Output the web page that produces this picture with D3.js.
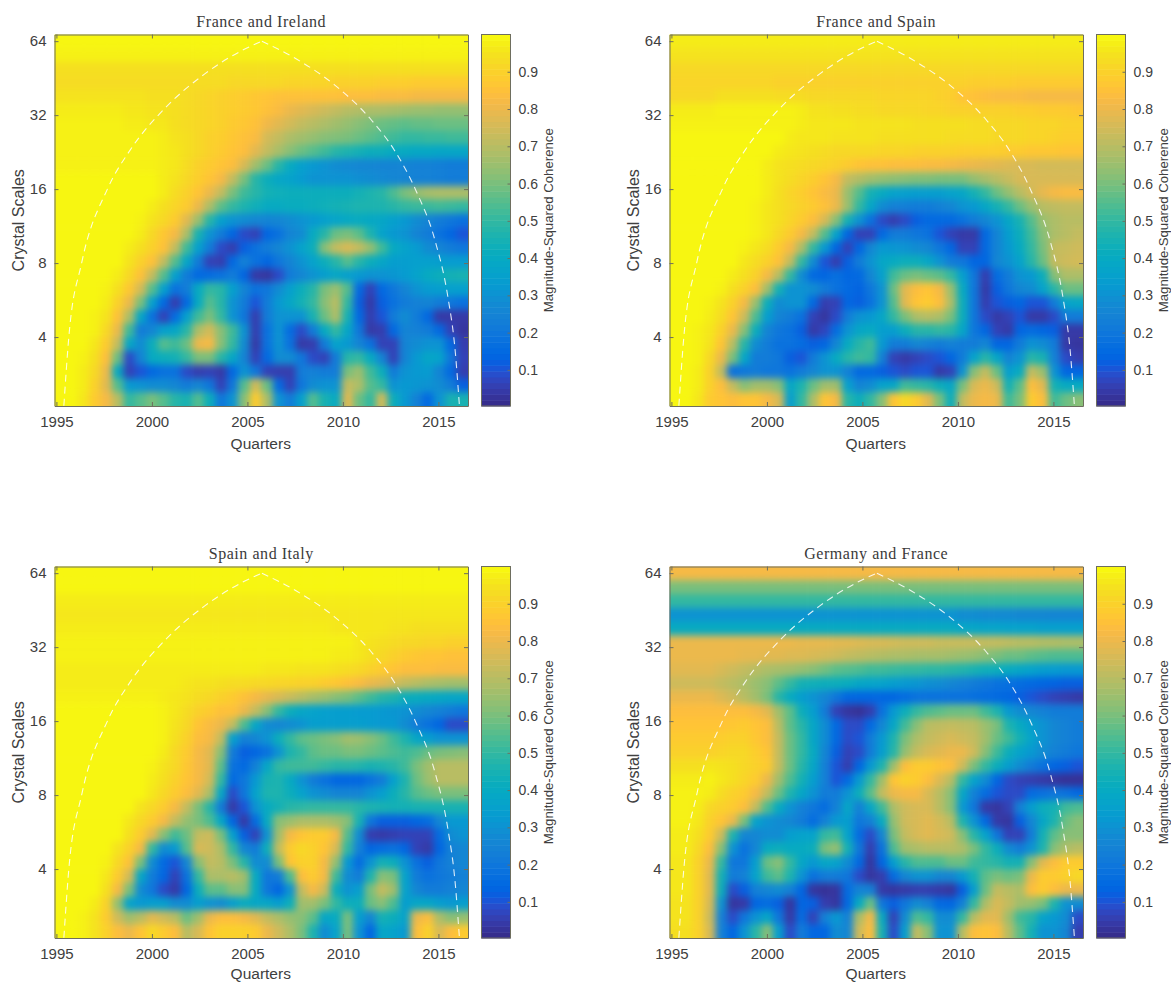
<!DOCTYPE html>
<html><head><meta charset="utf-8">
<style>html,body{margin:0;padding:0;background:#fff}svg{display:block}</style>
<script src="https://cdn.jsdelivr.net/npm/d3@7"></script>
</head><body><svg id="c" width="1171" height="982"></svg>
<script>
const xTicks=[1995,2000,2005,2010,2015];
const yTicks=[4,8,16,32,64];
const barTicks=[0.1,0.2,0.3,0.4,0.5,0.6,0.7,0.8,0.9];
const titles=["France and Ireland","France and Spain","Spain and Italy","Germany and France"];
const parula=[[.2081,.1663,.5292],[.2116,.1898,.5777],[.2123,.2138,.627],[.2081,.2386,.6771],[.1959,.2645,.7279],[.1707,.2919,.7792],[.1253,.3242,.8303],[.0591,.3598,.8683],[.0117,.3875,.882],[.006,.4086,.8828],[.0165,.4266,.8786],[.0329,.443,.872],[.0498,.4586,.8641],[.0629,.4737,.8554],[.0723,.4887,.8467],[.0779,.504,.8384],[.0793,.52,.8312],[.0749,.5375,.8263],[.0641,.557,.824],[.0488,.5772,.8228],[.0343,.5966,.8199],[.0265,.6137,.8135],[.0239,.6287,.8038],[.0231,.6418,.7913],[.0228,.6535,.7768],[.0267,.6642,.7607],[.0384,.6743,.7436],[.059,.6838,.7254],[.0843,.6928,.7062],[.1133,.7015,.6859],[.1453,.7098,.6646],[.1801,.7177,.6424],[.2178,.725,.6193],[.2586,.7317,.5954],[.3022,.7376,.5712],[.3482,.7424,.5473],[.3953,.7459,.5244],[.442,.7481,.5033],[.4871,.7491,.484],[.53,.7491,.4661],[.5709,.7485,.4494],[.6099,.7473,.4337],[.6473,.7456,.4188],[.6834,.7435,.4044],[.7184,.7411,.3905],[.7525,.7384,.3768],[.7858,.7356,.3633],[.8185,.7327,.3498],[.8507,.7299,.336],[.8824,.7274,.3217],[.9139,.7258,.3063],[.945,.7261,.2886],[.9739,.7314,.2666],[.9938,.7455,.2403],[.999,.7653,.2164],[.9955,.7861,.1967],[.988,.8066,.1794],[.9789,.8271,.1633],[.9697,.8481,.1475],[.9626,.8705,.1309],[.9589,.8949,.1132],[.9598,.9218,.0948],[.9661,.9514,.0755],[.9763,.9831,.0538]];
const coiLeft=[[1995.39,2.1],[1995.65,4],[1996.32,8],[1997.67,16],[1998.85,23],[2000.79,34.8],[2002.75,47],[2004.69,58.5],[2005.76,64]];
const coiRight=[[2005.76,64],[2007.59,54],[2009.56,42.5],[2011.5,30.5],[2012.67,23.2],[2013.82,15.8],[2014.82,9.9],[2015.5,5.8],[2015.88,3.5],[2016.1,2.1]];

const franceIreland=[
[99,99,99,99,99,99,99,99,99,99,99,99,99,99,99,99,99,99,99,99,99,99,99,99,99,99,99,99,99,99,99,99,99,99,99,99],
[98,98,98,98,98,98,98,98,98,98,98,98,98,98,98,98,98,98,98,98,98,98,98,98,98,98,98,98,98,98,98,98,98,98,98,98],
[94,94,94,94,94,94,94,94,94,94,94,94,94,94,94,94,94,94,94,94,94,94,94,94,94,94,94,94,94,94,94,94,94,94,94,94],
[93,93,93,93,93,93,93,93,93,93,93,93,93,93,93,92,92,92,92,92,91,91,91,91,90,90,90,90,89,89,89,88,88,88,88,88],
[95,95,95,95,95,95,95,95,94,94,94,93,92,91,90,89,88,87,86,85,85,85,85,85,85,84,84,84,83,83,83,82,82,82,82,82],
[97,97,97,97,97,97,96,96,95,95,94,93,92,91,90,89,88,87,85,83,80,78,76,74,72,70,69,68,68,67,66,65,65,64,64,64],
[98,98,98,98,98,98,97,97,96,96,94,93,92,91,90,88,87,85,81,78,75,72,70,68,66,64,62,60,58,57,56,57,57,58,58,58],
[98,98,98,98,98,98,98,98,98,97,95,94,92,90,89,87,85,83,75,72,68,66,64,62,61,60,58,56,54,52,50,50,51,51,52,52],
[98,98,98,98,98,98,98,98,98,97,96,94,92,90,88,86,84,78,72,67,62,58,55,52,48,46,44,42,42,40,40,39,39,38,38,38],
[98,98,98,98,98,98,98,98,98,97,96,93,90,88,86,84,76,66,58,48,40,35,32,30,28,27,26,26,25,25,25,24,24,23,22,22],
[99,99,99,99,99,99,99,99,99,97,95,92,89,86,82,72,60,48,42,38,36,33,30,30,30,30,29,28,27,26,25,24,24,23,22,22],
[99,99,99,99,99,99,99,99,99,97,93,90,86,80,72,60,52,48,44,43,42,42,42,42,42,42,44,46,48,54,60,64,67,68,68,68],
[99,99,99,99,99,99,99,99,97,94,91,88,80,68,56,50,46,43,40,40,41,41,42,43,44,45,46,46,46,48,50,51,51,52,51,50],
[99,99,99,99,99,99,99,98,95,92,88,78,65,48,35,30,28,26,25,26,28,30,32,35,37,39,40,39,38,35,32,28,25,22,20,18],
[99,99,99,99,99,99,99,97,92,87,82,68,45,30,22,14,8,6,14,18,25,28,40,48,58,60,56,46,36,32,30,25,22,18,14,10],
[99,99,99,99,99,99,97,94,90,85,72,52,35,22,8,5,12,18,22,26,30,36,42,62,72,76,72,64,52,40,36,33,28,25,22,20],
[99,99,99,99,99,99,95,90,85,72,55,38,22,6,5,15,24,18,14,20,25,30,36,42,48,55,48,42,38,34,34,35,35,34,33,33],
[99,99,99,99,99,97,92,85,72,55,35,22,15,16,18,22,14,4,3,8,22,26,30,34,38,35,32,30,30,31,33,36,40,42,44,45],
[99,99,99,99,98,94,87,75,55,35,18,22,40,50,48,35,25,18,20,28,35,42,48,60,65,55,15,6,15,20,25,30,33,34,35,35],
[99,99,99,99,97,90,80,60,35,15,5,15,40,55,48,30,22,10,22,32,38,44,50,62,70,50,12,4,12,18,22,24,25,22,20,18],
[99,99,99,98,95,85,68,38,18,6,16,35,52,60,50,30,20,5,22,30,30,30,45,58,68,45,15,5,10,22,28,22,15,4,4,4],
[99,99,99,98,92,80,52,22,26,35,38,48,68,75,62,52,30,5,18,30,16,8,22,40,50,38,20,4,5,15,25,24,22,15,6,3],
[99,99,99,96,88,72,38,28,42,55,52,58,80,82,62,50,28,4,18,30,18,4,5,22,36,32,25,18,6,6,25,28,30,30,15,5],
[99,99,98,94,84,58,8,25,40,42,44,50,60,60,48,38,25,6,15,28,28,20,8,6,22,48,50,40,25,6,25,32,38,36,20,6],
[99,99,97,92,80,40,6,10,15,18,18,8,5,6,4,15,30,20,6,5,5,22,24,22,22,60,65,52,42,22,30,32,33,25,15,5],
[99,99,97,90,78,55,32,30,28,28,26,22,26,20,6,20,55,75,58,15,6,20,28,30,30,72,68,55,50,30,32,31,30,28,22,12],
[99,99,96,88,82,70,50,55,60,55,48,45,55,42,20,30,62,88,68,30,22,35,55,45,40,78,58,50,75,42,32,24,15,30,45,45]
];
const franceSpain=[
[97,97,97,97,97,97,97,97,97,97,97,97,97,97,97,97,97,97,97,97,97,97,97,97,97,97,97,97,97,97,97,97,97,97,97,97],
[95,95,95,95,95,95,95,95,95,95,95,95,95,95,95,95,95,95,95,95,95,95,95,95,95,95,95,95,95,95,95,95,95,95,95,95],
[92,92,92,92,92,92,92,92,92,92,92,92,92,92,92,92,92,92,92,92,92,92,92,92,92,92,92,92,92,92,92,92,92,92,92,92],
[91,91,91,91,91,91,91,91,91,90,90,90,90,90,90,90,90,90,90,90,90,90,90,90,90,90,89,89,89,89,88,88,88,88,88,88],
[92,92,92,92,94,94,94,94,94,93,93,93,92,92,92,92,92,92,91,91,91,91,91,90,89,86,85,84,83,83,83,82,82,82,82,82],
[97,97,97,97,98,98,98,98,98,98,98,97,95,95,94,94,93,93,92,92,92,92,91,91,90,90,90,90,90,90,89,89,88,88,88,87],
[98,98,98,98,98,98,98,98,98,98,98,97,96,96,96,96,95,95,95,95,95,94,94,94,94,94,93,93,92,92,92,91,91,91,90,90],
[99,99,99,99,99,99,99,99,99,99,97,96,96,96,95,95,95,95,94,94,94,94,94,94,93,93,93,93,92,92,92,91,91,90,89,89],
[99,99,99,99,99,99,99,99,99,97,96,95,94,93,92,92,92,92,91,91,91,90,90,90,90,89,89,89,89,88,88,87,87,87,86,86],
[99,99,99,99,99,99,99,99,97,95,94,93,92,91,90,88,86,85,85,84,84,84,83,83,82,81,80,79,78,77,76,76,75,75,75,75],
[99,99,99,99,99,99,99,99,97,95,93,91,89,86,82,72,69,66,64,63,62,61,61,60,60,60,64,67,70,73,76,76,76,76,76,76],
[99,99,99,99,99,99,99,99,97,94,91,89,86,83,80,65,55,44,40,36,35,34,34,34,36,38,44,50,58,64,70,75,79,82,83,83],
[99,99,99,99,99,99,99,98,96,94,92,90,88,85,80,65,50,38,28,24,23,22,22,24,26,30,32,38,44,50,58,65,70,71,72,72],
[99,99,99,99,99,99,99,98,96,94,91,88,84,76,62,44,30,18,8,5,8,12,15,15,15,18,22,26,30,38,45,55,65,68,70,70],
[99,99,99,99,99,99,99,98,96,92,88,82,72,55,36,14,6,6,15,22,22,20,18,10,6,4,4,15,25,34,42,52,62,68,70,72],
[99,99,99,99,99,99,98,96,93,88,82,68,50,32,14,6,14,26,32,31,30,28,26,20,14,6,6,15,25,32,40,50,60,72,73,74],
[99,99,99,99,99,99,96,93,90,85,72,50,28,10,5,12,22,30,38,40,42,42,38,30,22,20,14,14,26,30,36,48,58,72,74,75],
[99,99,99,99,99,97,94,90,82,70,50,28,15,14,17,14,15,26,35,52,58,60,58,56,50,35,20,5,16,22,30,32,42,62,68,68],
[99,99,99,99,98,94,90,84,66,44,30,30,28,22,18,15,13,20,30,58,78,84,86,82,65,40,20,4,12,20,26,28,36,48,58,58],
[99,99,99,98,95,90,82,65,42,28,30,30,15,5,6,14,12,18,30,55,78,86,88,84,68,42,20,5,10,12,14,10,10,22,36,38],
[99,99,99,97,93,86,74,54,34,25,22,18,6,3,8,22,30,32,38,50,60,68,70,68,60,42,20,8,4,6,10,4,4,8,22,22],
[99,99,98,96,90,80,62,42,25,20,18,12,4,7,16,30,38,40,34,34,42,48,48,50,48,38,20,14,6,4,14,16,14,12,4,4],
[99,99,98,95,86,70,48,28,22,18,18,16,12,14,26,40,48,52,32,22,22,26,24,22,24,22,22,26,14,14,22,30,28,22,4,3],
[99,99,98,92,80,60,38,22,22,20,12,10,22,30,40,48,52,50,24,6,4,6,8,10,14,22,36,48,38,25,30,48,45,24,8,5],
[99,99,97,90,72,18,20,22,20,20,18,22,26,30,30,24,15,15,12,10,8,10,10,4,6,30,62,72,58,34,40,72,65,30,14,14],
[99,99,97,90,84,72,62,66,66,62,38,46,58,66,66,35,25,28,36,38,52,50,48,42,38,60,76,80,74,44,56,84,78,44,40,40],
[99,99,96,88,86,84,86,86,82,76,34,50,68,86,82,48,42,50,62,86,92,88,78,60,42,72,80,82,80,52,60,88,84,52,58,62]
];
const spainItaly=[
[99,99,99,99,99,99,99,99,99,99,99,99,99,99,99,99,99,99,99,99,99,99,99,99,99,99,99,99,99,99,99,99,99,99,99,99],
[99,99,99,99,99,99,99,99,99,99,99,99,99,99,99,99,99,99,99,99,99,99,99,99,99,99,99,99,99,99,99,99,99,99,99,99],
[97,97,97,97,97,97,97,97,97,97,97,97,97,97,97,97,97,97,97,97,97,97,97,97,97,97,97,97,97,97,97,97,97,97,97,97],
[96,96,96,96,96,96,96,96,96,96,96,96,96,96,96,96,96,96,96,96,96,96,96,96,96,96,96,96,96,96,96,96,96,96,96,96],
[97,97,97,97,97,97,97,97,97,97,97,97,97,97,97,97,97,97,97,97,97,97,97,97,96,96,96,96,96,95,95,94,94,94,94,94],
[98,98,98,98,98,98,98,98,98,98,98,98,98,98,98,98,98,98,98,98,98,98,98,98,98,98,96,95,94,93,92,92,91,91,90,90],
[98,98,98,98,98,98,98,98,98,98,98,98,98,98,98,98,98,98,98,98,98,98,98,98,97,97,96,94,92,90,88,87,86,86,85,85],
[97,97,97,97,97,97,97,97,97,97,97,97,97,97,97,97,97,97,96,96,96,95,95,95,94,93,92,90,88,86,84,84,84,83,83,83],
[97,97,97,97,97,97,97,97,97,97,97,96,95,95,94,93,93,92,92,91,91,90,90,88,87,85,83,80,78,75,72,70,68,67,66,66],
[98,98,98,98,98,98,98,98,98,97,96,95,93,92,90,88,85,82,79,76,73,70,67,65,62,60,56,52,48,46,42,41,40,39,38,38],
[99,99,99,99,99,99,99,99,99,98,96,93,90,88,85,85,80,72,62,50,42,38,36,35,34,34,33,33,32,31,30,28,26,24,22,20],
[99,99,99,99,99,99,99,99,99,98,95,92,86,83,80,72,54,38,28,26,28,30,34,34,34,34,34,33,32,32,28,22,18,14,8,8],
[99,99,99,99,99,99,99,99,99,98,94,90,84,82,72,35,24,26,30,42,50,56,58,60,62,66,65,62,58,52,46,38,34,30,30,30],
[99,99,99,99,99,99,99,99,99,97,92,88,82,78,62,22,12,14,18,30,46,50,56,58,58,60,60,58,56,54,52,54,58,60,61,62],
[99,99,99,99,99,99,99,99,98,95,92,87,82,78,56,18,15,24,38,50,52,52,52,50,48,48,47,45,46,48,52,60,66,70,70,70],
[99,99,99,99,99,99,99,99,97,94,90,86,82,75,50,15,20,32,45,46,40,30,22,18,14,14,14,18,22,35,46,58,65,70,70,70],
[99,99,99,99,99,99,99,99,96,92,88,84,78,68,38,8,20,36,46,46,42,36,30,28,25,25,25,30,34,42,48,55,58,60,60,60],
[99,99,99,99,99,99,99,95,92,88,82,72,60,48,22,4,10,30,40,44,48,49,50,50,50,50,48,46,45,44,44,45,45,45,45,45],
[99,99,99,99,99,99,96,92,88,82,72,64,60,54,38,14,4,16,40,62,65,68,68,68,66,62,45,20,12,12,12,14,16,26,32,32],
[99,99,99,99,99,99,94,88,78,62,52,58,72,74,60,35,12,6,30,66,82,86,88,88,82,55,28,5,4,5,6,6,6,16,28,30],
[99,99,99,99,99,95,90,82,50,28,32,55,76,74,68,50,26,22,42,72,88,92,90,86,76,50,24,14,16,18,14,6,4,14,24,26],
[99,99,99,99,98,92,85,60,28,15,10,26,62,72,70,60,48,28,28,60,86,90,90,82,64,32,16,30,44,42,30,18,12,20,24,26],
[99,99,99,99,96,88,75,38,22,14,6,18,50,68,68,70,66,40,20,22,54,84,88,82,52,28,22,46,62,60,36,22,18,20,22,24],
[99,99,99,99,94,82,60,28,20,8,4,14,42,56,56,62,62,40,20,14,30,72,82,74,42,30,34,60,72,66,36,26,22,22,24,26],
[99,99,99,97,90,64,36,32,34,34,28,28,34,30,28,34,40,38,38,34,42,66,66,60,50,42,42,58,62,54,34,38,38,34,32,34],
[99,99,98,95,88,74,66,70,78,74,70,58,66,80,84,84,82,78,72,68,64,62,56,38,40,60,34,26,44,42,36,80,84,68,62,64],
[99,99,98,95,90,84,80,86,92,88,84,70,76,86,90,90,90,88,80,74,68,60,46,28,36,60,30,14,38,36,32,84,90,76,84,88]
];
const germanyFrance=[
[82,82,82,82,82,82,82,82,82,82,82,82,82,82,82,82,82,82,82,82,82,82,82,82,82,82,82,82,82,82,82,82,82,82,82,82],
[60,60,60,60,60,60,60,60,60,60,60,60,60,60,60,60,60,60,60,60,60,60,60,60,60,60,60,60,60,60,60,60,60,60,60,60],
[50,50,50,50,50,50,50,50,50,50,50,50,50,50,50,50,50,50,50,50,50,50,50,50,50,50,50,50,50,50,50,50,50,50,50,50],
[30,30,30,30,30,30,30,30,30,30,30,30,30,30,30,30,30,30,30,30,30,30,30,30,30,28,28,27,27,27,26,26,26,25,25,25],
[40,40,40,40,40,40,40,40,40,40,40,40,40,40,40,40,40,40,40,40,40,40,40,40,40,38,38,37,37,36,36,36,35,35,35,35],
[80,80,80,80,80,80,80,80,80,80,80,79,79,79,78,78,77,76,76,75,74,74,74,73,73,73,73,72,72,71,70,70,69,69,68,68],
[80,80,80,80,80,80,79,79,78,78,77,77,76,75,74,72,71,70,69,68,68,67,67,67,66,65,64,62,60,58,58,56,55,54,54,54],
[78,78,78,78,76,74,72,70,68,67,66,64,62,59,56,55,54,52,52,51,50,50,49,49,48,47,45,43,42,40,38,36,34,33,32,32],
[74,74,74,74,72,70,68,65,62,56,50,44,43,42,42,41,38,37,36,34,32,31,29,28,26,24,22,20,18,17,16,15,14,13,12,12],
[80,80,80,80,77,74,70,66,60,48,40,34,30,26,20,14,14,14,14,14,16,18,18,18,18,18,17,16,15,14,12,10,8,6,5,4],
[84,84,84,84,84,84,84,82,78,66,56,42,34,22,6,3,2,5,18,32,42,50,54,56,58,58,58,52,46,32,28,26,24,22,22,22],
[86,86,86,86,86,87,88,86,84,70,56,48,38,28,15,8,8,15,26,38,52,62,70,71,72,71,70,65,60,46,40,34,30,26,24,22],
[88,88,88,88,89,90,90,87,84,72,58,50,38,28,15,8,10,22,32,46,60,68,72,74,76,74,72,66,58,52,44,36,30,26,24,22],
[90,90,90,90,91,92,92,89,86,72,58,50,40,26,12,6,8,22,34,48,64,72,76,78,80,80,74,62,52,42,36,32,28,24,22,20],
[94,94,94,96,95,94,92,90,88,72,58,48,38,24,10,5,14,32,46,66,84,88,88,86,84,74,60,50,42,34,28,22,18,14,12,10],
[97,97,97,98,96,94,91,88,80,66,54,44,34,24,10,15,32,50,66,86,90,88,84,77,70,50,36,28,14,8,6,5,4,3,2,2],
[98,98,98,97,93,90,88,82,72,58,46,38,30,22,22,30,42,56,72,80,82,82,76,70,62,38,24,16,10,8,8,16,18,20,18,15],
[98,98,97,92,90,88,84,72,54,40,30,24,20,16,24,38,24,38,52,68,74,76,76,70,62,32,20,4,3,6,24,34,42,44,52,54],
[98,98,96,90,86,80,60,36,30,28,26,22,16,24,32,34,20,24,40,64,74,76,78,75,70,46,30,15,4,3,12,26,38,46,58,62],
[97,97,94,88,74,46,26,26,28,28,34,36,36,50,52,36,16,8,26,60,72,76,78,76,74,62,48,36,20,6,6,22,44,56,62,62],
[97,97,92,84,62,30,18,26,40,42,40,40,42,60,64,44,20,5,18,54,66,68,70,70,70,68,60,50,42,28,22,30,46,62,68,70],
[96,96,90,80,50,20,20,34,58,62,50,38,32,38,36,28,15,3,14,34,48,54,54,54,58,58,52,50,48,44,44,62,78,84,88,88],
[96,96,90,78,44,22,24,36,52,56,46,30,18,22,22,20,8,3,5,16,26,30,30,26,26,32,44,56,60,58,60,80,88,88,90,92],
[96,96,90,78,42,8,12,24,26,28,24,14,3,2,3,16,25,24,4,3,4,5,5,4,3,12,34,58,72,70,68,84,88,84,80,80],
[95,95,90,76,30,3,4,14,16,12,3,14,12,5,3,15,40,58,20,12,20,28,24,15,14,24,50,68,76,72,66,64,60,46,30,28],
[95,95,90,74,24,8,20,30,38,20,4,16,6,24,32,24,68,82,40,6,28,54,50,28,28,50,70,78,78,66,52,48,36,32,28,8],
[94,94,90,76,24,14,30,48,62,34,8,22,14,14,28,26,74,84,44,8,34,72,62,30,30,70,84,86,84,70,56,44,30,30,26,5]
];
const panels=[franceIreland,franceSpain,spainItaly,germanyFrance];
const lefts=[54.5,669.5,54.5,669.5], tops=[34.5,34.5,566.5,566.5];

const W=413.5,H=371.5,barX=427,barW=29;
const svg=d3.select("#c");
const FONT="'Liberation Sans',Arial,sans-serif", INK="#404040", FRAME="#6e6e5e";
const color=d3.scaleLinear().domain(parula.map((_,i)=>i/(parula.length-1))).range(parula.map(c=>d3.rgb(c[0]*255,c[1]*255,c[2]*255))).clamp(true);
const defs=svg.append("defs");
const blur=defs.append("filter").attr("id","soft").attr("filterUnits","userSpaceOnUse")
  .attr("x",0).attr("y",0).attr("width",1171).attr("height",982).attr("color-interpolation-filters","sRGB");
blur.append("feGaussianBlur").attr("stdDeviation",3.9);

panels.forEach((grid,p)=>{
  const g=svg.append("g").attr("transform",`translate(${lefts[p]},${tops[p]})`);
  const x=d3.scaleLinear().domain([1994.9,1994.9+W/19.1]).range([0,W]);
  const y=d3.scaleLog().base(2).domain([Math.pow(2,1.068),Math.pow(2,6.09)]).range([H,0]);
  const cx=d3.scaleBand().domain(d3.range(grid[0].length)).range([0,W]);
  const cy=d3.scaleBand().domain(d3.range(grid.length)).range([0,H]);
  defs.append("clipPath").attr("id","clip"+p).append("rect").attr("width",W).attr("height",H);
  const cells=grid.flatMap((row,r)=>row.map((v,c)=>({r,c,v})));
  const nC=grid[0].length,nR=grid.length,pad=14;
  const clipG=g.append("g").attr("clip-path",`url(#clip${p})`);
  clipG.append("g").attr("filter","url(#soft)").selectAll("rect").data(cells).join("rect")
    .attr("x",d=>cx(d.c)-(d.c===0?pad:0))
    .attr("y",d=>cy(d.r)-(d.r===0?pad:0))
    .attr("width",d=>cx.bandwidth()+.6+(d.c===0||d.c===nC-1?pad:0))
    .attr("height",d=>cy.bandwidth()+.6+(d.r===0||d.r===nR-1?pad:0))
    .attr("fill",d=>color(d.v/100));
  const line=d3.line().x(d=>x(d[0])).y(d=>y(d[1])).curve(d3.curveMonotoneX);
  clipG.selectAll("path.coi").data([coiLeft,coiRight]).join("path").attr("class","coi")
    .attr("d",line).attr("fill","none").attr("stroke","#fff").attr("stroke-opacity",.85)
    .attr("stroke-width",1.1).attr("stroke-dasharray","7 5");

  const style=a=>{a.attr("font-family",FONT).attr("font-size",15);
    a.selectAll("path").attr("stroke",FRAME).attr("stroke-width",1);
    a.selectAll("line").attr("stroke",FRAME);
    a.selectAll("text").attr("fill",INK);};
  g.append("g").attr("transform",`translate(0,${H})`)
    .call(d3.axisBottom(x).tickValues(xTicks).tickFormat(d3.format("d")).tickSizeInner(-4).tickSizeOuter(0).tickPadding(10)).call(style);
  g.append("g").call(d3.axisLeft(y).tickValues(yTicks).tickFormat(d=>d).tickSizeInner(-4).tickSizeOuter(0).tickPadding(8)).call(style);
  g.append("g").call(d3.axisTop(x).tickValues(xTicks).tickFormat("").tickSizeInner(-4).tickSizeOuter(0)).call(style);
  g.append("g").attr("transform",`translate(${W},0)`).call(d3.axisRight(y).tickValues(yTicks).tickFormat("").tickSizeInner(-4).tickSizeOuter(0)).call(style);

  g.append("text").attr("x",W/2).attr("y",-8).attr("text-anchor","middle")
    .attr("font-family","'Liberation Serif','DejaVu Serif',serif").attr("font-size",16).attr("letter-spacing",.55).attr("fill","#3a3a3a").text(titles[p]);
  g.append("text").attr("x",W/2-0.5).attr("y",H+(p<2?43:41)).attr("text-anchor","middle")
    .attr("font-family",FONT).attr("font-size",15.5).attr("fill",INK).text("Quarters");
  g.append("text").attr("transform",`translate(-31,${H/2}) rotate(-90)`).attr("text-anchor","middle")
    .attr("font-family",FONT).attr("font-size",16).attr("fill",INK).text("Crystal Scales");

  // colour bar
  const b=g.append("g").attr("transform",`translate(${barX},0)`);
  const by=d3.scaleLinear().domain([0.003,1]).range([H,0]);
  const levels=d3.range(64).map(i=>i/64);
  b.selectAll("rect").data(levels).join("rect")
    .attr("x",0).attr("width",barW)
    .attr("y",d=>by(0.003+(d+1/64)*0.997)).attr("height",H/64+.5)
    .attr("fill",d=>color(d+1/128));
  b.append("rect").attr("width",barW).attr("height",H).attr("fill","none").attr("stroke",FRAME);
  b.append("g").attr("transform",`translate(${barW},0)`)
    .call(d3.axisRight(by).tickValues(barTicks).tickFormat(d3.format(".1f")).tickSizeInner(-3).tickSizeOuter(0).tickPadding(8)).call(style)
    .call(a=>a.attr("font-size",14)).call(a=>a.select(".domain").remove());
  b.append("text").attr("transform",`translate(71,${H/2}) rotate(-90)`).attr("text-anchor","middle")
    .attr("font-family",FONT).attr("font-size",13.2).attr("fill",INK).text("Magnitude-Squared Coherence");
});
</script></body></html>
